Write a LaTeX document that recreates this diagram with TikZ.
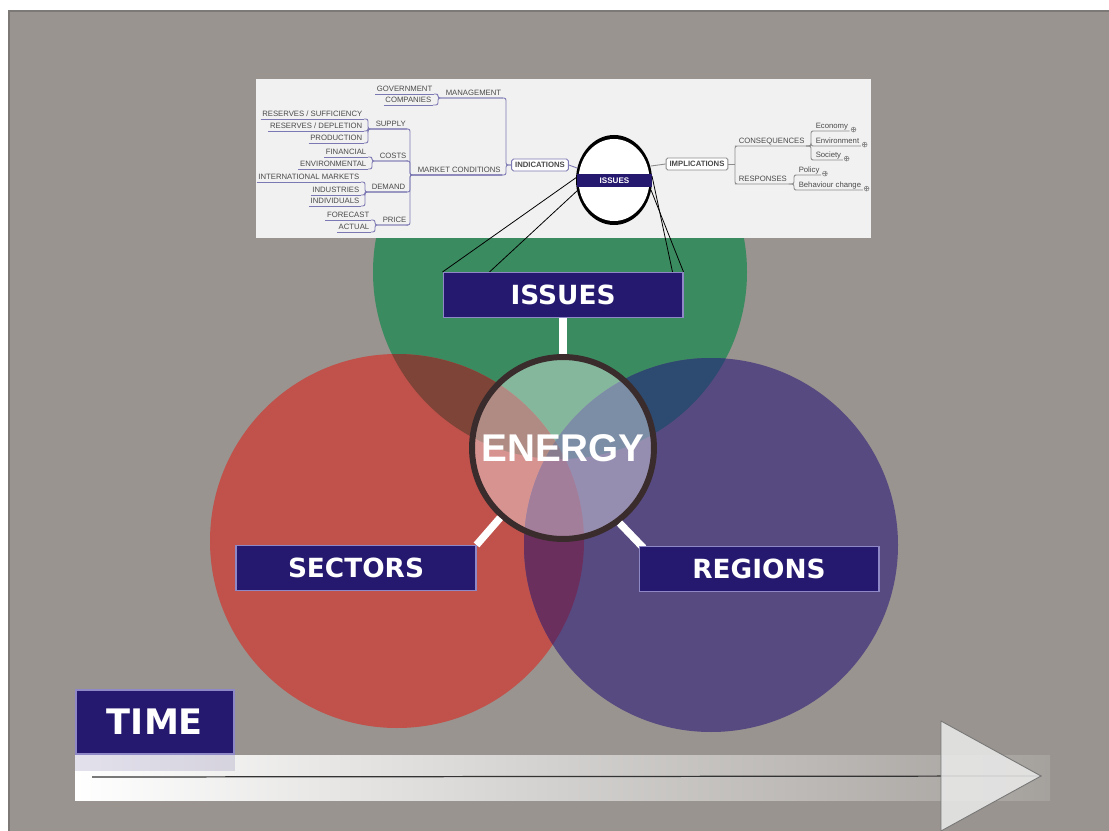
\documentclass[tikz,border=0pt]{standalone}
\usepackage{fontspec}
\usepackage{xcolor}
\usepackage{tikz}
\usetikzlibrary{calc, positioning}

\newfontfamily\tagfont{DejaVu Sans}
\newfontfamily\mapfont{Liberation Sans}

\definecolor{panel}{HTML}{99948F}
\definecolor{panelrim}{HTML}{7D7976}
\definecolor{issuegreen}{HTML}{3B8B60}
\definecolor{sectorred}{HTML}{C0514B}
\definecolor{regionblue}{HTML}{574A80}
\definecolor{redgreen}{HTML}{7E4437}
\definecolor{greenblue}{HTML}{2D4A70}
\definecolor{redblue}{HTML}{6B2F5E}
\definecolor{allthree}{HTML}{3E2E4A}
\definecolor{indigo}{HTML}{25186F}
\definecolor{lavender}{HTML}{8F88C6}
\definecolor{mapbg}{HTML}{F1F1F1}
\definecolor{mapink}{HTML}{4A4A4A}
\definecolor{mapline}{HTML}{7B78B3}
\definecolor{maplinegray}{HTML}{8C8C8C}
\definecolor{ring}{HTML}{3A2C2D}
\definecolor{barend}{HTML}{A5A19D}
\definecolor{tri}{HTML}{EBEBEB}
\definecolor{tririm}{HTML}{777777}

\pgfdeclarelayer{front}
\pgfsetlayers{main,front}

\tikzset{
  tagbox/.style={draw=lavender, line width=0.6pt, fill=indigo, text=white, inner sep=0pt,
    font=\tagfont\bfseries\fontsize{15}{18}\selectfont, minimum width=4.8cm, minimum height=0.9cm},
  spoke/.style={white, line width=4.2pt},
  zoomline/.style={black, line width=0.45pt},
  mmtxt/.style={font=\mapfont\fontsize{4.4}{5}\selectfont, text=mapink, inner xsep=0.8pt,
    inner ysep=0.8pt, text height=3.3pt, text depth=0.3pt},
  mmhead/.style={mmtxt, font=\mapfont\bfseries\fontsize{4.4}{5}\selectfont, fill=white,
    rounded corners=1pt, line width=0.5pt, inner xsep=2pt, inner ysep=1.6pt},
  mmline/.style={mapline, line width=0.5pt, rounded corners=1.2pt},
  mmgray/.style={maplinegray, line width=0.5pt, rounded corners=1.2pt},
  mmplus/.style={circle, draw=maplinegray, line width=0.3pt, inner sep=0pt, minimum size=2.8pt,
    path picture={\draw[maplinegray, line width=0.25pt]
      (path picture bounding box.north) -- (path picture bounding box.south)
      (path picture bounding box.west) -- (path picture bounding box.east);}},
}

\begin{document}
\begin{tikzpicture}[x=0.02cm, y=-0.02cm]
\useasboundingbox (0,0) rectangle (1109,831);
\fill[white] (0,0) rectangle (1109,831);
\fill[panel] (8,10) rectangle (1109,831);
\draw[panelrim, line width=1.5pt] (9,831) -- (9,11) -- (1109,11);

% three sets
\coordinate (cI) at (560,272);
\coordinate (cS) at (397,541);
\coordinate (cR) at (711,545);

\fill[issuegreen] (cI) circle[radius=187];
\fill[sectorred] (cS) circle[radius=187];
\fill[regionblue] (cR) circle[radius=187];
\begin{scope}
  \clip (cS) circle[radius=187];
  \fill[redblue] (cR) circle[radius=187];
\end{scope}
\begin{scope}
  \clip (cI) circle[radius=187];
  \fill[redgreen] (cS) circle[radius=187];
  \fill[greenblue] (cR) circle[radius=187];
  \clip (cS) circle[radius=187];
  \fill[allthree] (cR) circle[radius=187];
\end{scope}

\node[circle, minimum size=3.64cm, inner sep=0pt, draw=ring, line width=3.4pt,
  fill=white, fill opacity=.38, text opacity=1, text=white,
  font=\mapfont\bfseries\fontsize{22}{26}\selectfont] (energy) at (563,448) {ENERGY};

\begin{pgfonlayer}{front}
\node[tagbox] (iss) at (563,295) {ISSUES};
\node[tagbox] (sec) at (356,568) {SECTORS};
\node[tagbox] (reg) at (759,569) {REGIONS};
\end{pgfonlayer}

\draw[spoke] (iss.south) -- (energy.north);
\draw[spoke] (energy.228) -- (sec.north east);
\draw[spoke] (energy.307) -- ($(reg.north west)+(5,2)$);

% mind map
\fill[mapbg] (256,79) rectangle (871,238);

\node[mmtxt, anchor=south east] (gov) at (434,94) {GOVERNMENT};
\node[mmtxt, anchor=south east] (comp) at (433,105) {COMPANIES};
\node[mmtxt, anchor=south east] (res1) at (364,119) {RESERVES / SUFFICIENCY};
\node[mmtxt, anchor=south east] (res2) at (364,131) {RESERVES / DEPLETION};
\node[mmtxt, anchor=south east] (prod) at (364,143) {PRODUCTION};
\node[mmtxt, anchor=south east] (fin) at (368,157) {FINANCIAL};
\node[mmtxt, anchor=south east] (env) at (368,169) {ENVIRONMENTAL};
\node[mmtxt, anchor=south east] (intl) at (361,182) {INTERNATIONAL MARKETS};
\node[mmtxt, anchor=south east] (inds) at (361,195) {INDUSTRIES};
\node[mmtxt, anchor=south east] (indv) at (361,206) {INDIVIDUALS};
\node[mmtxt, anchor=south east] (fore) at (371,220) {FORECAST};
\node[mmtxt, anchor=south east] (act) at (371,232) {ACTUAL};

\node[mmtxt, anchor=south west] (mgmt) at (444,98) {MANAGEMENT};
\node[mmtxt, anchor=south west] (supply) at (374,129) {SUPPLY};
\node[mmtxt, anchor=south west] (costs) at (378,161) {COSTS};
\node[mmtxt, anchor=south west] (demand) at (370,192) {DEMAND};
\node[mmtxt, anchor=south west] (price) at (381,225) {PRICE};
\node[mmtxt, anchor=south west] (mkt) at (416,175) {MARKET CONDITIONS};

\node[mmhead, draw=mapline] (indic) at (540,165) {INDICATIONS};
\node[mmhead, draw=maplinegray] (impl) at (697,164) {IMPLICATIONS};

\node[mmtxt, anchor=south west] (cons) at (737,146) {CONSEQUENCES};
\node[mmtxt, anchor=south west] (resp) at (737,184) {RESPONSES};
\node[mmtxt, anchor=south west] (econ) at (814,131) {Economy};
\node[mmtxt, anchor=south west] (envr) at (814,146) {Environment};
\node[mmtxt, anchor=south west] (soc) at (814,160) {Society};
\node[mmtxt, anchor=south west] (pol) at (797,175) {Policy};
\node[mmtxt, anchor=south west] (beh) at (797,190) {Behaviour change};

\coordinate (fMgmt) at (438,98);
\coordinate (fSup) at (368,129);
\coordinate (fCost) at (372,161);
\coordinate (fDem) at (365,192);
\coordinate (fPri) at (375,225);
\coordinate (fMkt) at (410,175);
\coordinate (fInd) at (506,165);
\coordinate (fImp) at (735,164);
\coordinate (fCon) at (811,146);
\coordinate (fRes) at (794,184);

\foreach \n in {gov,comp,res1,res2,prod,fin,env,intl,inds,indv,fore,act}
  \draw[mmline] (\n.south west) -- (\n.south east);
\foreach \kid/\fork/\dad in {gov/fMgmt/mgmt, comp/fMgmt/mgmt, res1/fSup/supply,
    res2/fSup/supply, prod/fSup/supply, fin/fCost/costs, env/fCost/costs,
    intl/fDem/demand, inds/fDem/demand, indv/fDem/demand, fore/fPri/price,
    act/fPri/price, supply/fMkt/mkt, costs/fMkt/mkt, demand/fMkt/mkt, price/fMkt/mkt}
  \draw[mmline] (\kid.south east) -| (\fork) -- (\dad.south east);
\foreach \kid in {mgmt,mkt}
  \draw[mmline] (\kid.south east) -| (fInd) -- (indic.west);

\draw[mmgray] (impl.east) -- (fImp);
\foreach \kid in {cons,resp}
  \draw[mmgray] (fImp) |- (\kid.south west) -- (\kid.south east);
\foreach \kid in {econ,envr,soc}
  \draw[mmgray] (cons.south east) -- (fCon) |- (\kid.south west) -- (\kid.south east);
\foreach \kid in {pol,beh}
  \draw[mmgray] (resp.south east) -- (fRes) |- (\kid.south west) -- (\kid.south east);
\foreach \kid in {econ,envr,soc,pol,beh}
  \node[mmplus, anchor=west] (\kid-plus) at ([xshift=0.6pt,yshift=0.8pt]\kid.south east) {};

% magnified issue
\fill[black] (614,180) ellipse[x radius=38, y radius=45];
\fill[white] (614,180) ellipse[x radius=35.5, y radius=41];
\node[fill=indigo, text=white, font=\mapfont\bfseries\fontsize{4.6}{5}\selectfont,
  minimum width=1.5cm, minimum height=0.26cm, inner sep=0pt] (mmiss) at (614.5,180.5) {ISSUES};
\coordinate (eW) at (577,168);
\coordinate (eE) at (651,166);
\draw[mmline] (indic.east) -- (eW);
\draw[mmgray] (eE) -- (impl.west);

\coordinate (zA) at (577,177);
\coordinate (zB) at (578,190);
\coordinate (zC) at (652,176);
\coordinate (zD) at (651,190);
\draw[zoomline] (zA) -- (iss.north west);
\draw[zoomline] (zB) -- ($(iss.north west)+(47,0)$);
\draw[zoomline] (zC) -- ($(iss.north east)+(-11,0)$);
\draw[zoomline] (zD) -- (iss.north east);

% time axis
\shade[left color=white, right color=barend] (75,755) rectangle (1050,800);
\node[tagbox, font=\tagfont\bfseries\fontsize{20}{24}\selectfont,
  minimum width=3.16cm, minimum height=1.28cm] (time) at (155,722) {TIME};
\fill[indigo, fill opacity=.13] (time.south west) rectangle ($(time.south east)+(0,16)$);
\coordinate (tstart) at (92,777);
\coordinate (ttip) at (1041,776);
\draw[black!80, line width=0.7pt] (tstart) -- (ttip);
\filldraw[fill=tri, fill opacity=.85, draw=tririm, line width=0.5pt]
  (941,721) -- (ttip) -- (941,831) -- cycle;
\end{tikzpicture}
\end{document}
